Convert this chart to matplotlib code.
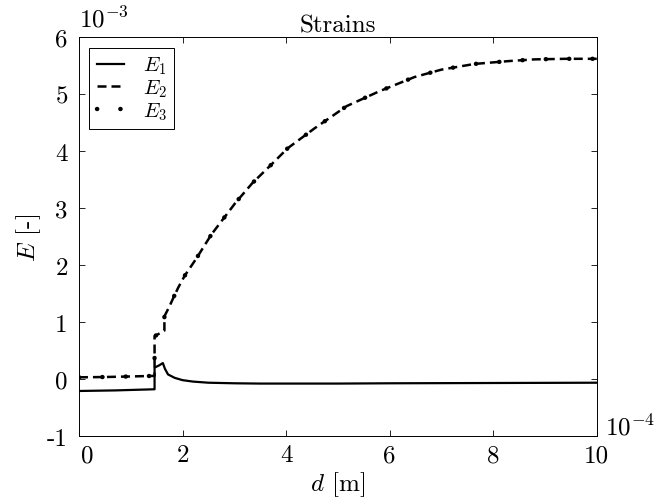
import matplotlib
matplotlib.use("Agg")
import matplotlib.pyplot as plt
import matplotlib.transforms as mtransforms

# position d in units of 1e-4 m, strains E in units of 1e-3
d_e1 = [0.0, 0.7, 1.46, 1.46, 1.55, 1.62, 1.66, 1.72, 1.85, 2.0, 2.2, 2.5, 3.0, 3.5, 4.0, 5.0, 6.0, 8.0, 10.0]
E1 = [-0.21, -0.20, -0.18, 0.20, 0.24, 0.28, 0.18, 0.08, 0.02, -0.02, -0.045, -0.065, -0.075, -0.08, -0.08, -0.08, -0.075, -0.07, -0.065]

d_e2 = [0.0, 0.5, 1.0, 1.46, 1.46, 1.65, 1.65, 1.75, 1.83, 1.92, 2.04, 2.27, 2.56, 3.02, 3.35, 3.70,
        4.03, 4.55, 5.17, 5.8, 6.48, 7.0, 7.64, 8.3, 8.8, 9.4, 10.0]
E2 = [0.03, 0.035, 0.045, 0.055, 0.75, 0.85, 1.10, 1.28, 1.44, 1.61, 1.81, 2.12, 2.54, 3.09, 3.44, 3.75,
      4.05, 4.40, 4.79, 5.05, 5.30, 5.43, 5.53, 5.58, 5.61, 5.62, 5.62]

# E3 lies on top of E2 everywhere in the picture
d_e3 = list(d_e2)
E3 = list(E2)

xticks = [0, 2, 4, 6, 8, 10]
yticks = [-1, 0, 1, 2, 3, 4, 5, 6]

plt.rcParams['font.family'] = 'cmr10'
plt.rcParams['mathtext.fontset'] = 'cm'
plt.rcParams['axes.unicode_minus'] = False
plt.rcParams['axes.formatter.use_mathtext'] = True

fig = plt.figure(figsize=(6.58, 5.02), dpi=100)
ax = fig.add_axes([0.120, 0.1295, 0.787, 0.7945])

ax.plot(d_e1, E1, color='k', lw=1.6, label='$E_1$')
ax.plot(d_e2, E2, color='k', lw=1.8, dashes=(3.6, 2.0), label='$E_2$')
ax.plot(d_e3, E3, color='k', lw=3.2, dashes=(0.05, 5.2), dash_capstyle='round', label='$E_3$')

ax.set_xlim(0, 10)
ax.set_ylim(-1, 6)
ax.set_xticks(xticks)
ax.set_yticks(yticks)
ax.set_xticklabels([str(t) for t in xticks])
ax.set_yticklabels([str(t) for t in yticks])
ax.tick_params(direction='in', top=True, right=True, length=4, width=0.6,
               labelsize=18)
ax.tick_params(axis='y', pad=8)
ax.tick_params(axis='x', pad=6)
for s in ax.spines.values():
    s.set_linewidth(0.7)

# the 0 on the x axis is pushed a little to the right
lab0 = ax.get_xticklabels()[0]
lab0.set_transform(lab0.get_transform() + mtransforms.ScaledTranslation(8 / 100, 0, fig.dpi_scale_trans))

ax.set_title('Strains', fontsize=18, pad=4)
ax.set_xlabel('$d$ [m]', fontsize=18, labelpad=2)
ax.set_ylabel('$E$ [-]', fontsize=18, labelpad=3)

ax.text(0.0, 1.015, '$10^{-3}$', transform=ax.transAxes, fontsize=18, ha='left', va='bottom')
ax.text(1.015, 0.005, '$10^{-4}$', transform=ax.transAxes, fontsize=18, ha='left', va='baseline')

leg = ax.legend(loc='upper left', fontsize=15, fancybox=False, framealpha=1,
                edgecolor='k', handlelength=1.3, handletextpad=0.9,
                labelspacing=0.05, borderpad=0.35, borderaxespad=0.5)
leg.get_frame().set_linewidth(0.7)

fig.savefig('out.png', dpi=100)
